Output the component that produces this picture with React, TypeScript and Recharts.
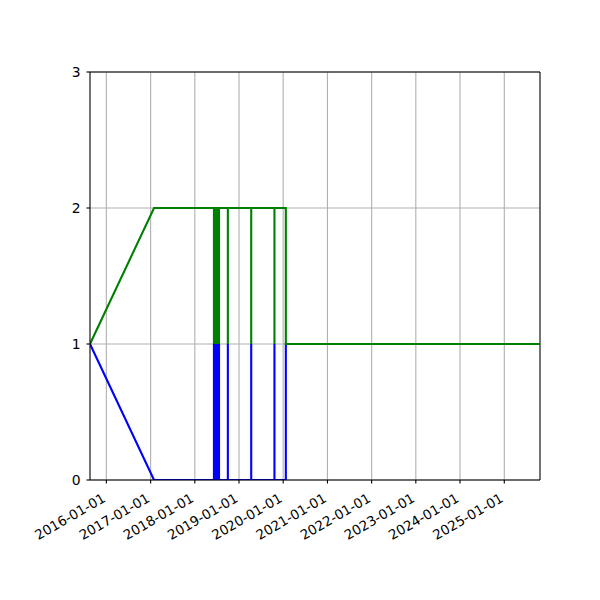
import React from "react";
import { LineChart, Line, XAxis, YAxis, CartesianGrid, ReferenceLine } from "recharts";

// each spike: up/down at the same date
const dates = [
  "2015-08-19",
  "2017-01-29",
  "2018-06-08", "2018-06-08", "2018-06-08",
  "2018-06-14", "2018-06-14", "2018-06-14",
  "2018-06-20", "2018-06-20", "2018-06-20",
  "2018-06-26", "2018-06-26", "2018-06-26",
  "2018-07-02", "2018-07-02", "2018-07-02",
  "2018-07-08", "2018-07-08", "2018-07-08",
  "2018-07-14", "2018-07-14", "2018-07-14",
  "2018-07-20", "2018-07-20", "2018-07-20",
  "2018-10-01", "2018-10-01", "2018-10-01",
  "2019-04-12", "2019-04-12", "2019-04-12",
  "2019-10-21", "2019-10-21", "2019-10-21",
  "2020-01-23", "2020-01-23",
  "2025-10-23",
];

const blueValues = [
  1,
  0,
  0, 1, 0,
  0, 1, 0,
  0, 1, 0,
  0, 1, 0,
  0, 1, 0,
  0, 1, 0,
  0, 1, 0,
  0, 1, 0,
  0, 1, 0,
  0, 1, 0,
  0, 1, 0,
  0, 1,
  1,
];

const greenValues = [
  1,
  2,
  2, 1, 2,
  2, 1, 2,
  2, 1, 2,
  2, 1, 2,
  2, 1, 2,
  2, 1, 2,
  2, 1, 2,
  2, 1, 2,
  2, 1, 2,
  2, 1, 2,
  2, 1, 2,
  2, 1,
  1,
];

const tickLabels = [
  "2016-01-01", "2017-01-01", "2018-01-01", "2019-01-01", "2020-01-01",
  "2021-01-01", "2022-01-01", "2023-01-01", "2024-01-01", "2025-01-01",
];
const yTicks = [0, 1, 2, 3];

const data = dates.map((d, i) => ({ t: Date.parse(d), blue: blueValues[i], green: greenValues[i] }));
const xTicks = tickLabels.map((s) => Date.parse(s));
const xMin = Date.parse(dates[0]);
const xMax = Date.parse(dates[dates.length - 1]);

const font = "DejaVu Sans";

const fmt = (t: number) => new Date(t).toISOString().slice(0, 10);

const DateTick = (props: any) => {
  const { x, y, payload } = props;
  const tx = x;
  const ty = y + 17.5;
  return (
    <text
      x={tx}
      y={ty}
      textAnchor="end"
      fill="#000"
      fontSize={13.5}
      fontFamily={font}
      transform={`rotate(-30, ${tx}, ${ty})`}
    >
      {fmt(payload.value)}
    </text>
  );
};

export default function App() {
  return (
    <div style={{ position: "absolute", left: 0, top: 0, width: 600, height: 600, background: "#fff" }}>
      <LineChart width={600} height={600} data={data} margin={{ top: 72, right: 60, bottom: 0, left: 0 }}>
        <CartesianGrid stroke="#b0b0b0" strokeWidth={1.1} horizontalValues={yTicks} verticalValues={xTicks} />
        <XAxis
          dataKey="t"
          type="number"
          domain={[xMin, xMax]}
          ticks={xTicks}
          interval={0}
          height={120}
          tickSize={3.5}
          tickMargin={0}
          stroke="#000"
          axisLine={{ stroke: "#000", strokeWidth: 1.1 }}
          tickLine={{ stroke: "#000", strokeWidth: 1.1 }}
          tick={<DateTick />}
          allowDataOverflow
        />
        <YAxis
          type="number"
          domain={[0, 3]}
          ticks={yTicks}
          interval={0}
          width={90}
          tickSize={3.5}
          tickMargin={6}
          axisLine={{ stroke: "#000", strokeWidth: 1.1 }}
          tickLine={{ stroke: "#000", strokeWidth: 1.1 }}
          tick={{ fill: "#000", fontSize: 13.9, fontFamily: font }}
          allowDataOverflow
        />
        <ReferenceLine y={3} stroke="#000" strokeWidth={1.1} />
        <ReferenceLine x={xMax} stroke="#000" strokeWidth={1.1} />
        <Line type="linear" dataKey="blue" stroke="#0000ff" strokeWidth={2.1} dot={false} isAnimationActive={false} />
        <Line type="linear" dataKey="green" stroke="#008000" strokeWidth={2.1} dot={false} isAnimationActive={false} />
      </LineChart>
    </div>
  );
}
